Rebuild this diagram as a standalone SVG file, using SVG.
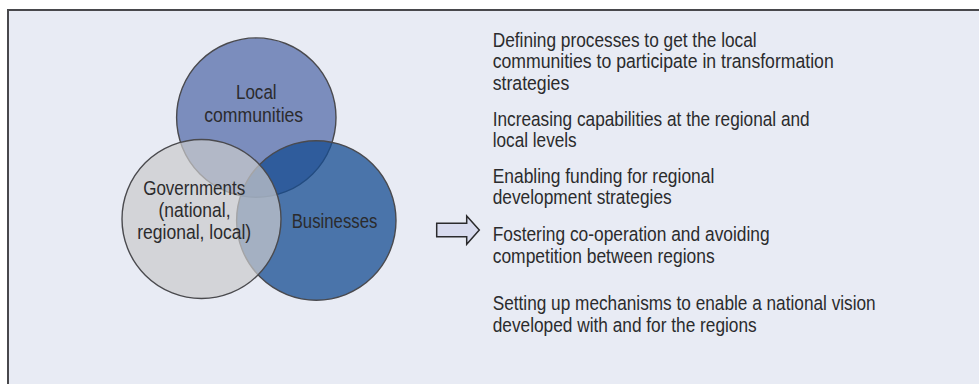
<svg xmlns="http://www.w3.org/2000/svg" width="979" height="384" viewBox="0 0 979 384">
<style>
  text { font-family: "Liberation Sans Narrow", "Liberation Sans", Arial, sans-serif; font-size: 20.5px; fill: #2b2b2d; }
  .c { text-anchor: middle; }
  .circ { stroke: #4a4a4e; stroke-width: 1.4; }
</style>
<rect x="0" y="0" width="979" height="384" fill="#ffffff"/>
<rect x="8" y="10" width="1000" height="400" fill="#e8ebf4" stroke="#48484c" stroke-width="2"/>
<g id="node-local-communities">
  <circle class="circ" cx="256.3" cy="117.6" r="79.7" fill="#7b8dbd"/>
</g>
<g id="node-businesses">
  <circle class="circ" cx="316.3" cy="220.5" r="79.7" fill="#154c92" fill-opacity="0.75"/>
</g>
<g id="node-governments">
  <circle class="circ" cx="201.5" cy="219" r="79.5" fill="#cacacc" fill-opacity="0.7"/>
</g>
<g id="labels">
  <text class="c" x="256.3" y="99.3" textLength="40.7" lengthAdjust="spacingAndGlyphs">Local</text>
  <text class="c" x="253.7" y="121.7" textLength="99" lengthAdjust="spacingAndGlyphs">communities</text>
  <text class="c" x="194.2" y="195" textLength="102" lengthAdjust="spacingAndGlyphs">Governments</text>
  <text class="c" x="194.5" y="216.8" textLength="72" lengthAdjust="spacingAndGlyphs">(national,</text>
  <text class="c" x="194.2" y="239.3" textLength="114" lengthAdjust="spacingAndGlyphs">regional, local)</text>
  <text class="c" x="334.5" y="228.3" textLength="85.7" lengthAdjust="spacingAndGlyphs">Businesses</text>
</g>
<g id="connectors">
  <polygon points="436.7,223.3 466.7,223.3 466.7,216 479.3,230 466.7,244.3 466.7,236.7 436.7,236.7" fill="#d8dbee" stroke="#2a2a2c" stroke-width="1.5" stroke-linejoin="miter"/>
</g>
<g id="node-outcomes">
  <text x="492.7" y="46.7" textLength="264" lengthAdjust="spacingAndGlyphs">Defining processes to get the local</text>
  <text x="492.7" y="68.3" textLength="341" lengthAdjust="spacingAndGlyphs">communities to participate in transformation</text>
  <text x="492.7" y="90" textLength="76.6" lengthAdjust="spacingAndGlyphs">strategies</text>
  <text x="492.7" y="126" textLength="317" lengthAdjust="spacingAndGlyphs">Increasing capabilities at the regional and</text>
  <text x="492.7" y="147" textLength="84" lengthAdjust="spacingAndGlyphs">local levels</text>
  <text x="492.7" y="182.7" textLength="221.6" lengthAdjust="spacingAndGlyphs">Enabling funding for regional</text>
  <text x="492.7" y="204.3" textLength="179" lengthAdjust="spacingAndGlyphs">development strategies</text>
  <text x="492.7" y="240.7" textLength="277" lengthAdjust="spacingAndGlyphs">Fostering co-operation and avoiding</text>
  <text x="492.7" y="262.7" textLength="222" lengthAdjust="spacingAndGlyphs">competition between regions</text>
  <text x="492.7" y="310" textLength="383" lengthAdjust="spacingAndGlyphs">Setting up mechanisms to enable a national vision</text>
  <text x="492.7" y="331.6" textLength="264" lengthAdjust="spacingAndGlyphs">developed with and for the regions</text>
</g>
</svg>
